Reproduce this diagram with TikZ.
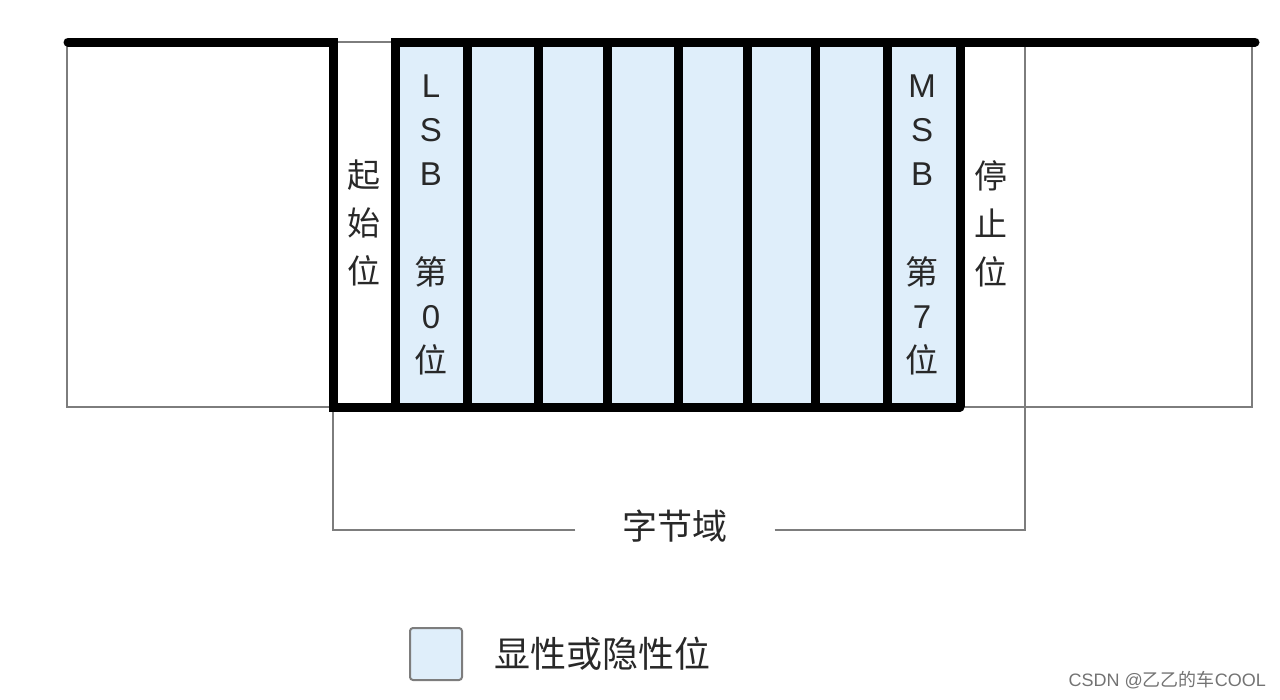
\documentclass[tikz,border=0pt]{standalone}
\usepackage{fontspec}
\setmainfont{Liberation Sans}
\newfontfamily\cjk{Noto Sans CJK SC}
\usetikzlibrary{positioning}
\definecolor{bitblue}{RGB}{223,238,250}
\definecolor{framegray}{RGB}{125,125,125}
\definecolor{textgray}{RGB}{40,40,40}
\tikzset{
	wave/.style={line width=9pt, line cap=round, line join=miter},
	hairline/.style={line width=1.8pt, draw=framegray},
	vlabel/.style={anchor=north, align=center, inner sep=0pt, text=textgray},
}
\begin{document}
\begin{tikzpicture}[x=1pt, y=-1pt]
	\useasboundingbox (0,0) rectangle (1280,699);
	% data bits background
	\fill [bitblue] (395,42) rectangle (960,407);
	% thin frame of the idle level
	\draw [hairline] (395,42) -- (67,42) -- (67,407) -- (1252,407) -- (1252,42);
	% byte field bracket
	\node [font=\cjk\fontsize{35pt}{40pt}\selectfont, text=textgray, inner xsep=47pt, inner ysep=0pt] (field) at (675,526) {字节域};
	\draw [hairline] ([yshift=-4pt]field.west) -| (333,407);
	\draw [hairline] ([yshift=-4pt]field.east) -| (1025,42);
	% signal level
	\draw [wave] (68,42) -- (333,42) -- (333,407) -- (960,407);
	\draw [wave] (395,407) -- (395,42) -- (1255,42);
	\foreach \x in {467,538,607,678,747,815,887,960}
		\draw [wave, line cap=butt] (\x,42) -- (\x,407);
	% bit labels
	\node [vlabel, font=\cjk\fontsize{33pt}{48pt}\selectfont] (startbit) at (364,160) {起\\始\\位};
	\node [vlabel, font=\fontsize{33pt}{44pt}\selectfont] (lsbbit) at (431,75) {L\\S\\B\\[55pt]{\cjk 第}\\0\\{\cjk 位}};
	\node [vlabel, font=\fontsize{33pt}{44pt}\selectfont] (msbbit) at (922,75) {M\\S\\B\\[55pt]{\cjk 第}\\7\\{\cjk 位}};
	\node [vlabel, font=\cjk\fontsize{33pt}{48pt}\selectfont] (stopbit) at (991,160) {停\\止\\位};
	% legend
	\node [draw=framegray, line width=2pt, fill=bitblue, rounded corners=3pt, minimum size=52pt, inner sep=0pt] (legendbox) at (436,654) {};
	\node [right=31pt of legendbox, font=\cjk\fontsize{36pt}{40pt}\selectfont, text=textgray, inner sep=0pt] (legendtext) {显性或隐性位};
	\node [anchor=east, font=\fontsize{18pt}{20pt}\selectfont, text=black!55, inner sep=0pt] (watermark) at (1266,680) {CSDN @{\cjk 乙乙的车}COOL};
\end{tikzpicture}
\end{document}
